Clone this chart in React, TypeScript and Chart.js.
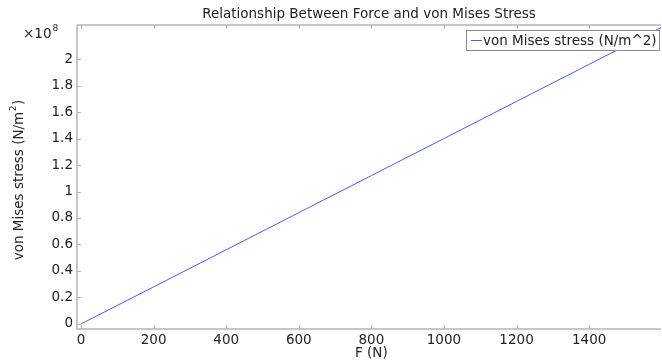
import React, { useEffect, useRef } from "react";
import { Chart, registerables } from "chart.js";

Chart.register(...registerables);

// Applied force (N) and resulting von Mises stress (N/m^2)
const forceN = [0, 200, 400, 600, 800, 1000, 1200, 1400, 1600];
const stressPa = [0, 2.8e7, 5.6e7, 8.4e7, 1.12e8, 1.4e8, 1.68e8, 1.96e8, 2.24e8];

const xTickValues = [0, 200, 400, 600, 800, 1000, 1200, 1400];
const yTickValues = [0, 2e7, 4e7, 6e7, 8e7, 1e8, 1.2e8, 1.4e8, 1.6e8, 1.8e8, 2e8];

const titleText = "Relationship Between Force and von Mises Stress";
const xTitle = "F (N)";
const yTitleMain = "von Mises stress (N/m";
const yTitleSup = "2";
const yTitleEnd = ")";
const legendText = "von Mises stress (N/m^2)";

const FONT = "DejaVu Sans";
const FS = 13.5;
const LINE_COLOR = "rgb(72, 92, 255)";
const AXIS_COLOR = "#b4b4b4";
const TEXT_COLOR = "#222";

const framePlugin = {
  id: "frame",
  afterDraw(chart: any) {
    const { ctx, chartArea } = chart;
    const { left, right, top, bottom } = chartArea;
    const xs = chart.scales.x;
    const ys = chart.scales.y;
    ctx.save();
    // axis box (left, bottom, top)
    ctx.strokeStyle = AXIS_COLOR;
    ctx.lineWidth = 1.5;
    ctx.beginPath();
    ctx.moveTo(left, top);
    ctx.lineTo(right, top);
    ctx.moveTo(left, top);
    ctx.lineTo(left, bottom);
    ctx.lineTo(right, bottom);
    ctx.stroke();
    // inward tick marks
    ctx.lineWidth = 1;
    ctx.beginPath();
    xTickValues.forEach((v) => {
      const px = Math.round(xs.getPixelForValue(v)) + 0.5;
      ctx.moveTo(px, bottom);
      ctx.lineTo(px, bottom - 4);
      ctx.moveTo(px, top);
      ctx.lineTo(px, top + 4);
    });
    yTickValues.forEach((v) => {
      const py = Math.round(ys.getPixelForValue(v)) + 0.5;
      ctx.moveTo(left, py);
      ctx.lineTo(left + 4, py);
    });
    ctx.stroke();

    // title
    ctx.fillStyle = TEXT_COLOR;
    ctx.font = `${FS}px "${FONT}"`;
    ctx.textAlign = "center";
    ctx.textBaseline = "alphabetic";
    ctx.fillText(titleText, (left + right) / 2, 18);

    // exponent label
    ctx.textAlign = "left";
    ctx.font = `${FS}px "${FONT}"`;
    ctx.fillText("×10", 23, 38);
    const w = ctx.measureText("×10").width;
    ctx.font = `9px "${FONT}"`;
    ctx.fillText("8", 23 + w + 1, 31);

    // x axis title
    ctx.font = `${FS}px "${FONT}"`;
    ctx.textAlign = "center";
    ctx.fillText(xTitle, xs.getPixelForValue(800), 357);

    // y axis title with superscript
    ctx.save();
    ctx.font = `${FS}px "${FONT}"`;
    const wMain = ctx.measureText(yTitleMain).width;
    const wEnd = ctx.measureText(yTitleEnd).width;
    ctx.font = `9px "${FONT}"`;
    const wSup = ctx.measureText(yTitleSup).width;
    const total = wMain + wSup + 1 + wEnd;
    ctx.translate(23, 180);
    ctx.rotate(-Math.PI / 2);
    ctx.textAlign = "left";
    let cx = -total / 2;
    ctx.font = `${FS}px "${FONT}"`;
    ctx.fillText(yTitleMain, cx, 0);
    cx += wMain;
    ctx.font = `9px "${FONT}"`;
    ctx.fillText(yTitleSup, cx + 0.5, -7);
    cx += wSup + 1;
    ctx.font = `${FS}px "${FONT}"`;
    ctx.fillText(yTitleEnd, cx, 0);
    ctx.restore();

    // legend box
    const lx = 466, ly = 30, lw = 193, lh = 20;
    ctx.fillStyle = "#fff";
    ctx.fillRect(lx, ly, lw, lh);
    ctx.strokeStyle = "#8a8a8a";
    ctx.lineWidth = 1;
    ctx.strokeRect(lx + 0.5, ly + 0.5, lw, lh);
    ctx.strokeStyle = LINE_COLOR;
    ctx.beginPath();
    ctx.moveTo(lx + 5, ly + 10.5);
    ctx.lineTo(lx + 16, ly + 10.5);
    ctx.stroke();
    ctx.fillStyle = TEXT_COLOR;
    ctx.textAlign = "left";
    ctx.font = `${FS}px "${FONT}"`;
    ctx.fillText(legendText, lx + 17, ly + 15);
    ctx.restore();
  },
};

export default function App() {
  const canvasRef = useRef<HTMLCanvasElement | null>(null);

  useEffect(() => {
    if (!canvasRef.current) return;
    const chart = new Chart(canvasRef.current, {
      type: "line",
      data: {
        datasets: [
          {
            label: legendText,
            data: forceN.map((f, i) => ({ x: f, y: stressPa[i] })),
            borderColor: LINE_COLOR,
            borderWidth: 1,
            pointRadius: 0,
            tension: 0,
            fill: false,
          },
        ],
      },
      options: {
        responsive: false,
        animation: false,
        layout: { padding: { left: 0, right: 1, top: 25, bottom: 0 } },
        plugins: {
          legend: { display: false },
          title: { display: false },
          tooltip: { enabled: false },
        },
        scales: {
          x: {
            type: "linear",
            min: -11,
            max: 1598,
            grid: { display: false, drawTicks: false },
            border: { display: false },
            afterBuildTicks: (scale: any) => {
              scale.ticks = xTickValues.map((v) => ({ value: v }));
            },
            afterFit: (scale: any) => {
              scale.height = 31;
            },
            ticks: {
              autoSkip: false,
              maxRotation: 0,
              padding: 3,
              color: TEXT_COLOR,
              font: { family: FONT, size: FS },
              callback: (v: any) => String(v),
            },
          },
          y: {
            type: "linear",
            min: -3.8e6,
            max: 2.257e8,
            grid: { display: false, drawTicks: false },
            border: { display: false },
            afterBuildTicks: (scale: any) => {
              scale.ticks = yTickValues.map((v) => ({ value: v }));
            },
            afterFit: (scale: any) => {
              scale.width = 77;
            },
            ticks: {
              autoSkip: false,
              padding: 4,
              color: TEXT_COLOR,
              font: { family: FONT, size: FS },
              callback: (v: any) => String(Number((Number(v) / 1e8).toFixed(1))),
            },
          },
        },
      },
      plugins: [framePlugin],
    });
    return () => chart.destroy();
  }, []);

  return (
    <div style={{ position: "fixed", left: 0, top: 0, width: 662, height: 360, background: "#fff" }}>
      <canvas ref={canvasRef} width={662} height={360} />
    </div>
  );
}
